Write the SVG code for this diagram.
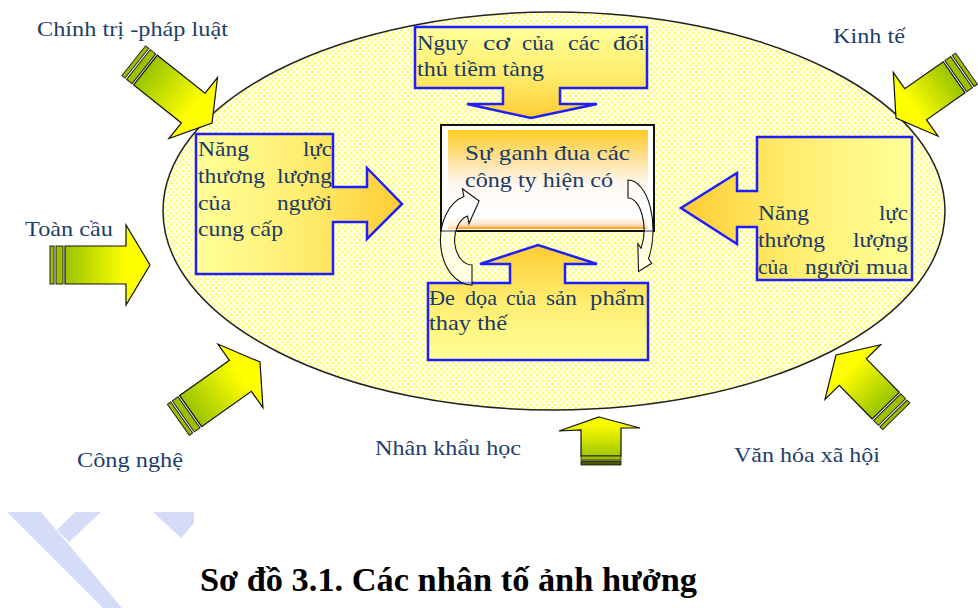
<svg xmlns="http://www.w3.org/2000/svg" width="978" height="608" viewBox="0 0 978 608">
<defs>
<style>
.t{font-family:"Liberation Serif","Times New Roman",serif;font-size:21px;fill:#1B3A66}
.lbl{font-family:"Liberation Serif","Times New Roman",serif;font-size:21px;fill:#1E3F6B}
.cap{font-family:"Liberation Serif","Times New Roman",serif;font-size:34px;font-weight:bold;fill:#000}
.callout{stroke:#1E1EFF;stroke-width:2.5;stroke-linejoin:miter}
.arr{fill:url(#gArrow);stroke:#111;stroke-width:1.2;stroke-linejoin:miter}
.stripe{fill:#9CBF00;stroke:#222;stroke-width:1}
.curve{fill:#FFFFFF;fill-opacity:0.55;stroke:#111;stroke-width:1.1}
.wm{fill:#D5DCF8}
</style>
<pattern id="lattice" width="6" height="6" patternUnits="userSpaceOnUse">
<rect width="6" height="6" fill="#FFFF66"/>
<path d="M0,3 L3,0 L6,3 L3,6 Z" fill="none" stroke="#FFFFFF" stroke-width="1.6"/>
</pattern>
<linearGradient id="gTop" x1="0" y1="0" x2="0" y2="1">
<stop offset="0" stop-color="#FFFF99"/><stop offset="0.5" stop-color="#FFEE70"/><stop offset="1" stop-color="#FFCC33"/>
</linearGradient>
<linearGradient id="gBottom" x1="0" y1="0" x2="0" y2="1">
<stop offset="0" stop-color="#FFCC33"/><stop offset="0.5" stop-color="#FFEE70"/><stop offset="1" stop-color="#FFFF99"/>
</linearGradient>
<linearGradient id="gLeft" x1="0" y1="0" x2="1" y2="0">
<stop offset="0" stop-color="#FFFF99"/><stop offset="0.5" stop-color="#FFEE70"/><stop offset="1" stop-color="#FFCC33"/>
</linearGradient>
<linearGradient id="gRight" x1="0" y1="0" x2="1" y2="0">
<stop offset="0" stop-color="#FFCC33"/><stop offset="0.5" stop-color="#FFEE70"/><stop offset="1" stop-color="#FFFF99"/>
</linearGradient>
<linearGradient id="gCenter" x1="0" y1="0" x2="0" y2="1">
<stop offset="0" stop-color="#FFCC22"/><stop offset="0.35" stop-color="#FFE6B0"/><stop offset="0.55" stop-color="#FFF8F0"/><stop offset="0.88" stop-color="#FFFFFF"/><stop offset="0.96" stop-color="#FFE0C0"/><stop offset="1" stop-color="#FF9900"/>
</linearGradient>
<linearGradient id="gArrow" x1="0" y1="0" x2="1" y2="0">
<stop offset="0" stop-color="#99C400"/><stop offset="0.72" stop-color="#FFFF00"/><stop offset="1" stop-color="#FFFF00"/>
</linearGradient>
<linearGradient id="gUp" x1="0" y1="0" x2="0" y2="1">
<stop offset="0" stop-color="#FFFF00"/><stop offset="0.3" stop-color="#F2F500"/><stop offset="1" stop-color="#A0C800"/>
</linearGradient>
</defs>

<rect width="978" height="608" fill="#FFFFFF"/>

<g id="watermark">
<polygon class="wm" points="7,512 41,512 122,608 103,608"/>
<polygon class="wm" points="75,512 101,512 69,542 57,530"/>
<polygon class="wm" points="153,512 194,512 194,523 181,538"/>
</g>

<g id="environment">
<ellipse cx="554" cy="211" rx="391" ry="199" fill="url(#lattice)" stroke="#222" stroke-width="1.5"/>
</g>

<g id="node-threat-entrants">
<path class="callout" fill="url(#gTop)" d="M415,27 H647 V88 H560 V104 H597 L531,118 L467,104 H503 V88 H415 Z"/>
<text class="t" x="417" y="50" textLength="51" lengthAdjust="spacingAndGlyphs">Nguy</text>
<text class="t" x="483" y="50" textLength="27" lengthAdjust="spacingAndGlyphs">cơ</text>
<text class="t" x="522" y="50" textLength="32" lengthAdjust="spacingAndGlyphs">của</text>
<text class="t" x="568" y="50" textLength="32" lengthAdjust="spacingAndGlyphs">các</text>
<text class="t" x="613" y="50" textLength="32" lengthAdjust="spacingAndGlyphs">đối</text>
<text class="t" x="417" y="76" textLength="127" lengthAdjust="spacingAndGlyphs">thủ tiềm tàng</text>
</g>

<g id="node-suppliers">
<path class="callout" fill="url(#gLeft)" d="M196,134 H333 V187 H367 V168 L402,204 L367,239 V222 H333 V274 H196 Z"/>
<text class="t" x="198" y="156" textLength="51" lengthAdjust="spacingAndGlyphs">Năng</text>
<text class="t" x="303" y="156" textLength="29" lengthAdjust="spacingAndGlyphs">lực</text>
<text class="t" x="198" y="183" textLength="67" lengthAdjust="spacingAndGlyphs">thương</text>
<text class="t" x="277" y="183" textLength="55" lengthAdjust="spacingAndGlyphs">lượng</text>
<text class="t" x="198" y="210" textLength="33" lengthAdjust="spacingAndGlyphs">của</text>
<text class="t" x="277" y="210" textLength="55" lengthAdjust="spacingAndGlyphs">người</text>
<text class="t" x="198" y="236" textLength="85" lengthAdjust="spacingAndGlyphs">cung cấp</text>
</g>

<g id="node-buyers">
<path class="callout" fill="url(#gRight)" d="M757,137 H912 V280 H757 V227 H737 V244 L681,208 L737,173 V191 H757 Z"/>
<text class="t" x="758" y="220" textLength="51" lengthAdjust="spacingAndGlyphs">Năng</text>
<text class="t" x="879" y="220" textLength="29" lengthAdjust="spacingAndGlyphs">lực</text>
<text class="t" x="758" y="247" textLength="67" lengthAdjust="spacingAndGlyphs">thương</text>
<text class="t" x="853" y="247" textLength="55" lengthAdjust="spacingAndGlyphs">lượng</text>
<text class="t" x="758" y="274" textLength="30" lengthAdjust="spacingAndGlyphs">của</text>
<text class="t" x="805" y="274" textLength="55" lengthAdjust="spacingAndGlyphs">người</text>
<text class="t" x="866" y="274" textLength="42" lengthAdjust="spacingAndGlyphs">mua</text>
</g>

<g id="node-substitutes">
<path class="callout" fill="url(#gBottom)" d="M428,283 H510 V264 H480 L538,245 L597,264 H565 V283 H648 V360 H428 Z"/>
<text class="t" x="429" y="305" textLength="26" lengthAdjust="spacingAndGlyphs">Đe</text>
<text class="t" x="465" y="305" textLength="32" lengthAdjust="spacingAndGlyphs">dọa</text>
<text class="t" x="506" y="305" textLength="30" lengthAdjust="spacingAndGlyphs">của</text>
<text class="t" x="546" y="305" textLength="31" lengthAdjust="spacingAndGlyphs">sản</text>
<text class="t" x="590" y="305" textLength="55" lengthAdjust="spacingAndGlyphs">phẩm</text>
<text class="t" x="429" y="330" textLength="78" lengthAdjust="spacingAndGlyphs">thay thế</text>
</g>

<g id="node-rivalry">
<rect x="441" y="125" width="213" height="106" fill="#FFFFFF" stroke="#111" stroke-width="2"/>
<rect x="448" y="130" width="200" height="99" fill="url(#gCenter)"/>
<text class="t" x="465" y="160" textLength="165" lengthAdjust="spacingAndGlyphs">Sự ganh đua các</text>
<text class="t" x="465" y="187" textLength="148" lengthAdjust="spacingAndGlyphs">công ty hiện có</text>
</g>

<g id="connectors">
<path class="curve" vector-effect="non-scaling-stroke" transform="translate(472,240) scale(0.7,1)" d="M0,45 A45,45 0 0 1 -11.6,-43.5 L-13.7,-51.2 L10.2,-39 L-4.4,-16.4 L-6.5,-24.1 A25,25 0 0 0 0,25 Z"/>
<path class="curve" vector-effect="non-scaling-stroke" transform="translate(628,230) scale(0.5,1)" d="M0,-50 A50,50 0 0 1 41,28.7 L47.5,33.3 L21,41.5 L19.7,13.8 L26.2,18.4 A32,32 0 0 0 0,-32 Z"/>

<g id="arrow-politics" transform="translate(212,123) rotate(38.5)">
<rect class="stripe" x="-100" y="-19" width="4" height="38"/>
<rect class="stripe" x="-94" y="-19" width="7" height="38"/>
<polygon class="arr" points="-85,-19 -24,-19 -24,-39 0,0 -24,39 -24,19 -85,19"/>
</g>
<g id="arrow-economy" transform="translate(896,118) rotate(145)">
<rect class="stripe" x="-86" y="-19" width="4" height="38"/>
<rect class="stripe" x="-80" y="-19" width="7" height="38"/>
<polygon class="arr" points="-71,-19 -24,-19 -24,-39 0,0 -24,39 -24,19 -71,19"/>
</g>
<g id="arrow-global" transform="translate(150,265)">
<rect class="stripe" x="-100" y="-19" width="4" height="38"/>
<rect class="stripe" x="-94" y="-19" width="7" height="38"/>
<polygon class="arr" points="-85,-19 -24,-19 -24,-40 0,0 -24,40 -24,19 -85,19"/>
</g>
<g id="arrow-technology" transform="translate(260,362) rotate(-35.3)">
<rect class="stripe" x="-100" y="-19" width="4" height="38"/>
<rect class="stripe" x="-94" y="-19" width="7" height="38"/>
<polygon class="arr" points="-85,-19 -24,-19 -24,-39 0,0 -24,39 -24,19 -85,19"/>
</g>
<g id="arrow-culture" transform="translate(836,355) rotate(-134.5)">
<rect class="stripe" x="-86" y="-19" width="4" height="38"/>
<rect class="stripe" x="-80" y="-19" width="7" height="38"/>
<polygon class="arr" points="-71,-19 -24,-19 -24,-39 0,0 -24,39 -24,19 -71,19"/>
</g>
<g id="arrow-demography">
<polygon fill="url(#gUp)" stroke="#111" stroke-width="1.2" points="599,417 640,428 621,428 621,456 581,456 581,430 559,431"/>
<rect x="581" y="456" width="40" height="4" fill="#9CBF00" stroke="#222" stroke-width="0.8"/>
<rect x="581" y="461" width="40" height="4" fill="#4A5A00" stroke="#111" stroke-width="0.8"/>
</g>
</g>

<g id="node-label-politics"><text class="lbl" x="37" y="36" textLength="191" lengthAdjust="spacingAndGlyphs">Chính trị -pháp luật</text></g>
<g id="node-label-economy"><text class="lbl" x="833" y="43" textLength="72" lengthAdjust="spacingAndGlyphs">Kinh tế</text></g>
<g id="node-label-global"><text class="lbl" x="25" y="236" textLength="88" lengthAdjust="spacingAndGlyphs">Toàn cầu</text></g>
<g id="node-label-technology"><text class="lbl" x="77" y="467" textLength="106" lengthAdjust="spacingAndGlyphs">Công nghệ</text></g>
<g id="node-label-demography"><text class="lbl" x="375" y="455" textLength="146" lengthAdjust="spacingAndGlyphs">Nhân khẩu học</text></g>
<g id="node-label-culture"><text class="lbl" x="734" y="462" textLength="146" lengthAdjust="spacingAndGlyphs">Văn hóa xã hội</text></g>

<g id="caption"><text class="cap" x="200" y="591" textLength="497" lengthAdjust="spacingAndGlyphs">Sơ đồ 3.1. Các nhân tố ảnh hưởng</text></g>
</svg>
